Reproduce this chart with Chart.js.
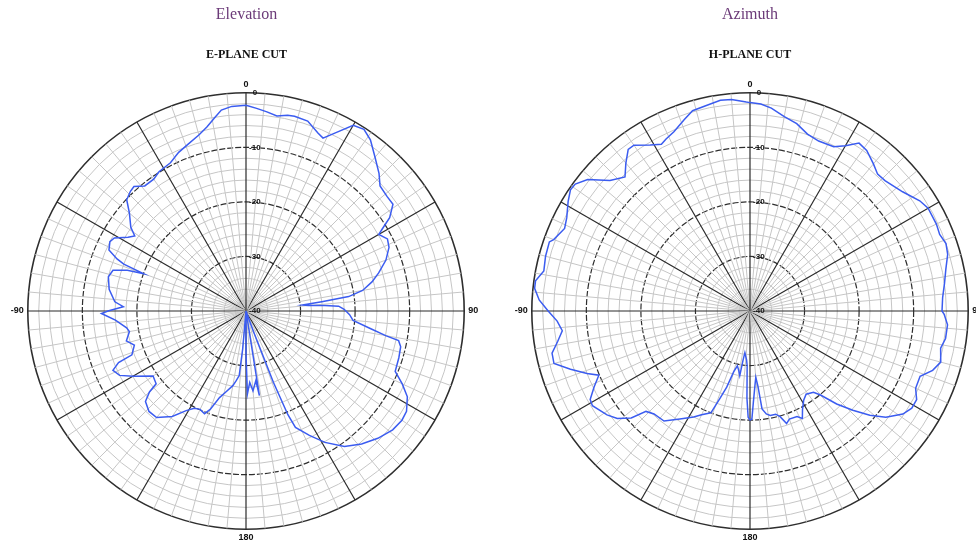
<!DOCTYPE html>
<html><head><meta charset="utf-8">
<script src="https://cdn.jsdelivr.net/npm/chart.js@4.4.0/dist/chart.umd.min.js"></script>
<style>
html,body{margin:0;padding:0;background:#fff;overflow:hidden;width:976px;height:545px;position:relative;}
#c1{position:absolute;left:0;top:0;}
#c2{position:absolute;left:500px;top:0;}
</style></head><body>
<canvas id="c1" width="493" height="545"></canvas>
<canvas id="c2" width="500" height="545"></canvas>
<script>
// Elevation (E-plane cut): angle in degrees, relative level in dB
const elevAngles = [0,3,6,9,12,14,18,22,24,27,30,33,36,40,44,47,51,54,57,59,60,63,66,70,74,77,80,82,83,84,85,86,87,89,92,95,98,100,101,103,107,112,115,118,122,125,129,134,139,144,149,153,157,158,159,160,161,165,170,171,172,175,177,179,180,181,184,185,186,188,190,194,197,200,202,205,208,211,215,220,224,228,230,231,235,240,243,246,248,249,253,256,260,262,266,269,270,272,274,279,284,287,289,290,291,292,294,297,299,302,304,306,310,313,316,318,321,325,328,333,337,341,345,348,351,353,356];
const elevValues = [-2.3,-2.8,-3.3,-3.8,-3.3,-3.2,-3.4,-4.8,-5.3,-3.2,
-0.7,-0.3,-1.2,-3.2,-4.9,-6.4,-6.7,-6.7,-8.6,-10.9,
-11.9,-10.9,-11.3,-12.7,-14.7,-16.3,-18.3,-21,-26,-29.6,
-28.5,-25.5,-23,-22,-21,-20.3,-17,-14,-11.5,-10.9,
-10.7,-10.5,-8.4,-6.5,-5.3,-5.1,-5.4,-6.4,-7.7,-9.3,
-11.9,-14.4,-16.8,-19.5,-26,-36,-40,-40,-40,-24.3,
-27.1,-25.3,-26.9,-24.8,-32,-40,-40,-33,-28.1,-27.1,
-26.1,-24.7,-23.4,-20.8,-19.7,-20.1,-19.8,-18.7,-16.4,-14.5,
-14.4,-15.2,-16.9,-18.8,-19.2,-16.1,-14,-13.3,-14.8,-17.6,
-18.6,-17.4,-18.3,-17.9,-16,-13.5,-14.7,-17.5,-15.9,-14.6,
-14,-14.5,-17,-20,-16,-14.5,-12.5,-12,-12.4,-14.5,
-15.4,-13.9,-12.1,-10.1,-9.5,-9.3,-10.5,-10.5,-9.9,-9.5,
-8.4,-7.6,-6.6,-5.5,-4,-2.9,-2.4];

// Azimuth (H-plane cut)
const azAngles = [0,3,6,10,14,18,22,27,30,33,36,40,43,46,52,57,60,65,68,71,74,78,82,86,90,91,94,98,101,105,108,111,115,118,121,124,128,131,134,137,140,142,146,149,152,154,156,160,162,164,166,169,171,173,174,175,176,178,179,180,181,182,183,184,187,188,189,191,193,195,197,199,201,205,208,213,218,223,226,228,231,234,239,241,244,247,249,252,255,258,261,264,267,270,273,276,278,281,285,289,290,294,297,301,304,306,309,313,317,320,323,325,329,332,334,337,341,344,348,352,355,359];
const azValues = [-1.8,-2,-2.6,-3.8,-4.6,-5.9,-6.4,-6.2,-5,-3.3,
-3.6,-4.8,-5.7,-5.6,-4.5,-2.9,-2.3,-2.3,-2.5,-2,
-2.3,-3.3,-4,-4.6,-4.8,-4.4,-3.7,-3.8,-4.4,-3.8,
-4.8,-6.6,-6.5,-5.4,-5.4,-6.2,-8.4,-10.9,-13.8,-16.7,
-19.9,-21.1,-21.6,-20.9,-19.5,-18.1,-18.8,-18.9,-18.3,-19.8,
-20.5,-20.5,-20.9,-21.9,-26.2,-27.8,-26.6,-23,-20.2,-20,
-20.5,-24,-30,-31,-32.3,-31,-28,-29,-29.7,-28.5,
-25.4,-23,-20,-19,-18,-16.4,-14.4,-14.2,-13.5,-10.7,
-8.7,-7.6,-6.3,-6.5,-8.2,-9.9,-8,-5.4,-2.8,-2.9,
-4.3,-5.4,-4.6,-3,-1.3,-0.3,-0.3,-1.5,-1.2,-1.1,
-1.7,-2.8,-2.3,-1.1,-0.3,-0.4,-1.7,-4.9,-6.4,-4.6,
-2.9,-2.9,-4.5,-5.4,-4.9,-4.3,-2.9,-1.8,-1.5,-1,
-1.1,-1.7];

// Angular categories (1 degree each) and the labels shown on them
const angleCategories = Array.from({length: 360}, (_, i) => i);
const angleTickLabels = {0: '0', 90: '90', 180: '180', 270: '-90'};
const dbMin = -40, dbMax = 0, dbStep = 1;

function toSeries(angles, values) {
  const arr = angleCategories.map(() => null);
  angles.forEach((a, i) => { arr[a] = values[i]; });
  return arr;
}

const tickShift = '\u00a0\u00a0\u00a0\u00a0\u00a0\u00a0\u00a0\u00a0';

function makeChart(id, title, subtitle, angles, values) {
  return new Chart(document.getElementById(id), {
    type: 'radar',
    data: {
      labels: angleCategories,
      datasets: [{
        data: toSeries(angles, values),
        borderColor: '#3b5cf0',
        borderWidth: 1.5,
        fill: false,
        pointRadius: 0,
        pointHoverRadius: 0,
        spanGaps: true,
        tension: 0
      }]
    },
    options: {
      responsive: false,
      animation: false,
      events: [],
      layout: {padding: {left: 0, right: 0, top: 0, bottom: 1}},
      plugins: {
        legend: {display: false},
        tooltip: {enabled: false},
        title: {
          display: true, text: title, color: '#6b3a78',
          font: {family: 'Liberation Serif', size: 16, weight: 'normal', lineHeight: 1.2},
          padding: {top: 5, bottom: 12}
        },
        subtitle: {
          display: true, text: subtitle, color: '#111',
          font: {family: 'Liberation Serif', size: 12, weight: 'bold', lineHeight: 1.3},
          padding: {top: 11, bottom: 17}
        }
      },
      scales: {
        r: {
          min: dbMin, max: dbMax,
          startAngle: 0,
          ticks: {
            stepSize: dbStep, maxTicksLimit: 41,
            showLabelBackdrop: false, backdropPadding: 0,
            color: '#111',
            font: {family: 'Liberation Sans', size: 8, weight: 'bold'},
            callback: v => (v % 10 === 0 ? tickShift + v : '')
          },
          grid: {
            circular: true,
            color: c => (c.tick && c.tick.value % 10 === 0) ? '#2e2e2e' : '#c6c6c6',
            lineWidth: c => (c.tick && c.tick.value === 0) ? 1.6 : ((c.tick && c.tick.value % 10 === 0) ? 1.2 : 1)
          },
          border: {
            dash: c => (c.tick && c.tick.value % 10 === 0 && c.tick.value !== 0) ? [6, 2] : []
          },
          angleLines: {
            display: true,
            color: c => c.index % 30 === 0 ? '#2a2a2a' : (c.index % 5 === 0 ? '#c6c6c6' : 'rgba(0,0,0,0)'),
            lineWidth: c => c.index % 30 === 0 ? 1.2 : (c.index % 5 === 0 ? 1 : 0)
          },
          pointLabels: {
            display: true,
            padding: 0,
            color: '#111',
            font: {family: 'Liberation Sans', size: 9, weight: 'bold', lineHeight: 1},
            callback: (label, index) => (angleTickLabels[index] !== undefined ? angleTickLabels[index] : [])
          }
        }
      }
    }
  });
}

makeChart('c1', 'Elevation', 'E-PLANE CUT', elevAngles, elevValues);
makeChart('c2', 'Azimuth', 'H-PLANE CUT', azAngles, azValues);
</script>
</body></html>
